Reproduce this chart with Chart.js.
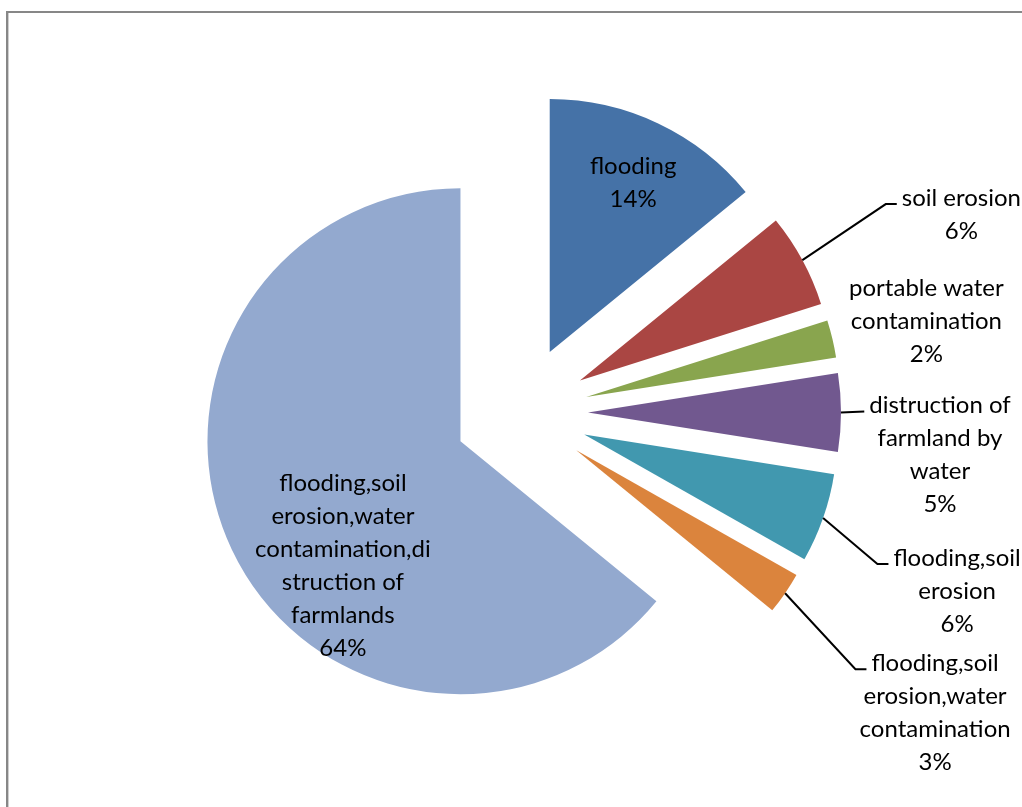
<!DOCTYPE html>
<html>
<head>
<meta charset="utf-8">
<title>Flood impact shares</title>
<script src="https://cdn.jsdelivr.net/npm/chart.js@4.4.1/dist/chart.umd.min.js"></script>
<style>
  html, body { margin: 0; padding: 0; background: #fff; }
  #wrap { width: 1022px; height: 807px; position: relative; }
</style>
</head>
<body>
<div id="wrap"><canvas id="pie"></canvas></div>
<script>
// slice names, already split into the lines shown on the chart
const categories = [
  ['flooding'],
  ['soil erosion'],
  ['portable water', 'contamination'],
  ['distruction of', 'farmland by', 'water'],
  ['flooding,soil', 'erosion'],
  ['flooding,soil', 'erosion,water', 'contamination'],
  ['flooding,soil', 'erosion,water', 'contamination,di', 'struction of', 'farmlands']
];
const shares = [14.1, 6.0, 2.4, 5.0, 5.7, 2.7, 64.1];
const colors = ['#4572A7', '#AA4643', '#89A54E', '#71588F', '#4198AF', '#DB843D', '#93A9CF'];

// label placement, measured from the middle of each slice's rim
const labelSpots = [
  { dx: -25, dy: 43, leader: false },
  { dx: 159, dy: -62, leader: true },
  { dx: 94, dy: -51, leader: false },
  { dx: 99, dy: -7, leader: true },
  { dx: 134, dy: 40, leader: true },
  { dx: 150, dy: 70, leader: true },
  { dx: 111, dy: -66, leader: false }
];

const explodeDist = 67;
const lineGap = 33;

// push every slice out from the centre along its middle angle
const explode = {
  id: 'explode',
  afterDatasetUpdate(chart, args) {
    chart.getDatasetMeta(args.index).data.forEach(arc => {
      const mid = (arc.startAngle + arc.endAngle) / 2;
      arc.x += Math.cos(mid) * explodeDist;
      arc.y += Math.sin(mid) * explodeDist;
    });
  }
};

// grey frame round the chart
const frame = {
  id: 'frame',
  beforeDraw(chart) {
    const ctx = chart.ctx;
    ctx.save();
    ctx.strokeStyle = '#878787';
    ctx.lineWidth = 2;
    ctx.strokeRect(7, 12, 1100, 900);
    ctx.strokeStyle = '#cfcfcf';
    ctx.lineWidth = 1;
    ctx.beginPath();
    ctx.moveTo(8.5, 13);
    ctx.lineTo(8.5, 807);
    ctx.stroke();
    ctx.restore();
  }
};

const sliceLabels = {
  id: 'sliceLabels',
  afterDatasetsDraw(chart) {
    const ctx = chart.ctx;
    const meta = chart.getDatasetMeta(0);
    const total = shares.reduce((a, b) => a + b, 0);
    ctx.save();
    ctx.font = '24px Lato';
    ctx.fillStyle = '#000';
    ctx.strokeStyle = '#000';
    ctx.lineWidth = 2;
    ctx.textAlign = 'center';
    ctx.textBaseline = 'middle';
    meta.data.forEach((arc, i) => {
      const mid = (arc.startAngle + arc.endAngle) / 2;
      const ax = arc.x + Math.cos(mid) * arc.outerRadius;
      const ay = arc.y + Math.sin(mid) * arc.outerRadius;
      const spot = labelSpots[i];
      const lines = categories[i].concat(Math.round(shares[i] / total * 100) + '%');
      const cx = ax + spot.dx;
      const cy = ay + spot.dy;
      lines.forEach((t, k) => ctx.fillText(t, cx, cy + k * lineGap));
      if (spot.leader) {
        const left = cx - ctx.measureText(lines[0]).width / 2;
        const endX = left - 5;
        const endY = cy + 6;
        ctx.beginPath();
        ctx.moveTo(ax, ay);
        if (Math.abs(endY - ay) > 3) ctx.lineTo(endX - 11, endY);
        ctx.lineTo(endX, endY);
        ctx.stroke();
      }
    });
    ctx.restore();
  }
};

new Chart(document.getElementById('pie'), {
  type: 'pie',
  data: {
    labels: categories.map(c => c.join(' ')),
    datasets: [{
      data: shares,
      backgroundColor: colors,
      borderWidth: 0
    }]
  },
  options: {
    responsive: true,
    maintainAspectRatio: false,
    animation: false,
    events: [],
    radius: 253,
    layout: { padding: { left: 20, right: 0, top: 18, bottom: 0 } },
    plugins: {
      legend: { display: false },
      tooltip: { enabled: false }
    }
  },
  plugins: [frame, explode, sliceLabels]
});
</script>
</body>
</html>
